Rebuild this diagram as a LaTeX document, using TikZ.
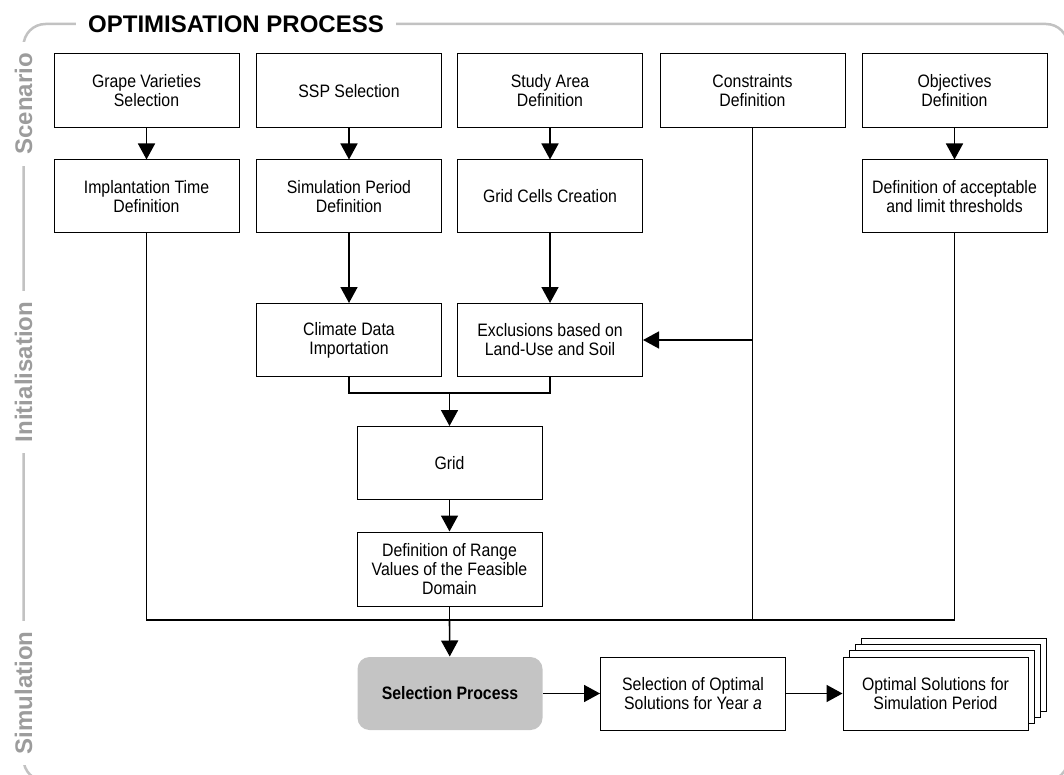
\documentclass[tikz,border=0pt]{standalone}
\usepackage{fontspec}
\setmainfont{Liberation Sans}
\newfontfamily\boxfont[FakeStretch=0.88]{Liberation Sans}
\usetikzlibrary{arrows.meta}
\definecolor{framegray}{HTML}{C2C2C2}
\definecolor{labelgray}{HTML}{9C9C9C}
\definecolor{procgray}{HTML}{C4C4C4}
\tikzset{
  stepbox/.style={draw, line width=1pt, fill=white, minimum width=185pt, minimum height=73pt,
    align=center, inner sep=2pt, font=\boxfont\fontsize{18}{19}\selectfont},
  arr/.style={-{Triangle[length=16pt,width=17pt]}, line width=1.6pt},
  link/.style={line width=1.6pt},
  phase/.style={rotate=90, fill=white, text=labelgray, font=\fontsize{24}{28}\selectfont\bfseries,
    inner xsep=11pt, inner ysep=0pt}
}

\begin{document}
\begin{tikzpicture}[x=1pt, y=-1pt]       % optimisation process
    \useasboundingbox (0,0) rectangle (1064,775);
    \clip (0,0) rectangle (1064,775);

    % frame and phase labels
    \draw[framegray, line width=2.5pt, rounded corners=22pt] (23.5,24) rectangle (1068,781);
    \node[fill=white, font=\fontsize{24}{28}\selectfont\bfseries, inner xsep=12pt, inner ysep=0pt] at (236,24) (title) {OPTIMISATION PROCESS};
    \node[phase] at (23.5,104) (scen) {Scenario};
    \node[phase] at (23.5,372) (init) {Initialisation};
    \node[phase] at (23.5,693) (simu) {Simulation};

    % scenario
    \node[stepbox, minimum height=74pt] at (146.5,91) (grape) {Grape Varieties\\Selection};
    \node[stepbox, minimum height=74pt] at (349,91) (ssp) {SSP Selection};
    \node[stepbox, minimum height=74pt] at (550,91) (area) {Study Area\\Definition};
    \node[stepbox, minimum height=74pt] at (752.5,91) (constr) {Constraints\\Definition};
    \node[stepbox, minimum height=74pt] at (954.5,91) (obj) {Objectives\\Definition};

    % initialisation
    \node[stepbox] at (146.5,196.5) (implant) {Implantation Time\\Definition};
    \node[stepbox] at (349,196.5) (simper) {Simulation Period\\Definition};
    \node[stepbox] at (550,196.5) (cells) {Grid Cells Creation};
    \node[stepbox] at (954.5,196.5) (thresh) {Definition of acceptable\\and limit thresholds};
    \node[stepbox] at (349,340) (climate) {Climate Data\\Importation};
    \node[stepbox] at (550,340) (excl) {Exclusions based on\\Land-Use and Soil};
    \node[stepbox] at (449.5,463) (grid) {Grid};
    \node[stepbox, minimum height=74pt] at (449.5,569) (range) {Definition of Range\\Values of the Feasible\\Domain};

    % simulation
    \node[stepbox, draw=none, fill=procgray, rounded corners=12pt, font=\boxfont\fontsize{18}{19}\selectfont\bfseries] at (450,693.5) (selproc) {Selection Process};
    \node[stepbox] at (693,693.5) (selopt) {Selection of Optimal\\Solutions for Year \textit{a}};
    \foreach \k in {3,2,1}
        \node[stepbox, xshift=6.3*\k pt, yshift=6.3*\k pt] at (935.5,693.5) {};
    \node[stepbox] at (935.5,693.5) (optimal) {Optimal Solutions for\\Simulation Period};

    \coordinate (merge) at (449.5,393);
    \coordinate (bus) at (449.5,620);

    \draw[arr] (grape) -- (implant);
    \draw[arr] (ssp) -- (simper);
    \draw[arr] (area) -- (cells);
    \draw[arr] (obj) -- (thresh);
    \draw[arr] (simper) -- (climate);
    \draw[arr] (cells) -- (excl);

    \draw[link] (constr.south) -- (constr.south |- bus);
    \draw[arr] (constr.south |- excl.east) -- (excl.east);
    \draw[link] (climate.south) |- (merge) -| (excl.south);
    \draw[arr] (merge) -- (grid);
    \draw[arr] (grid) -- (range);

    \draw[link] (implant.south) -- (implant.south |- bus) -- (thresh.south |- bus) -- (thresh.south);
    \draw[link] (range) -- (bus);
    \draw[arr] (bus) -- (selproc);
    \draw[arr] (selproc) -- (selopt);
    \draw[arr] (selopt) -- (optimal);
\end{tikzpicture}
\end{document}
